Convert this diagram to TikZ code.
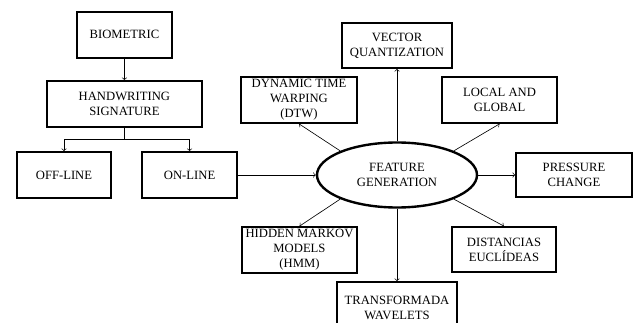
\documentclass[tikz,border=0pt]{standalone}
\usepackage{fontspec}
\setmainfont{Liberation Serif}
\usetikzlibrary{arrows,shapes.geometric}

\begin{document}
\begin{tikzpicture}[
        box/.style={draw,line width=1.2pt,align=center,inner sep=1pt,
          font=\fontsize{9}{10.7}\selectfont},
        con/.style={->,line width=0.45pt}]
        \useasboundingbox (0,0) rectangle (15.85,8.05);
        \begin{scope}
        \clip (0,0) rectangle (15.85,8.05);
        % left tree
        \node[box,minimum width=2.375cm,minimum height=1.15cm] (bio) at (3.11,7.18) {BIOMETRIC};
        \node[box,minimum width=3.875cm,minimum height=1.15cm] (hs) at (3.11,5.45) {HANDWRITING\\SIGNATURE};
        \node[box,minimum width=2.35cm,minimum height=1.15cm] (off) at (1.6,3.675) {OFF-LINE};
        \node[box,minimum width=2.375cm,minimum height=1.15cm] (on) at (4.74,3.675) {ON-LINE};
        \coordinate (split) at (3.11,4.575);
        \draw[con] (bio) -- (hs);
        \draw[line width=0.45pt] (hs.south) -- (split);
        \draw[con] (split) -| (off.north);
        \draw[con] (split) -| (on.north);
        % centre and the methods round it
        \node[draw,ellipse,line width=1.7pt,minimum width=4cm,minimum height=1.625cm,
          align=center,font=\fontsize{9}{10.7}\selectfont] (fg) at (9.925,3.675) {FEATURE\\GENERATION};
        \node[box,minimum width=2.75cm,minimum height=1.125cm] (vq) at (9.925,6.9125) {VECTOR\\QUANTIZATION};
        \node[box,minimum width=2.9cm,minimum height=1.15cm] (dtw) at (7.475,5.55) {DYNAMIC TIME\\WARPING\\(DTW)};
        \node[box,minimum width=2.875cm,minimum height=1.15cm] (lg) at (12.49,5.55) {LOCAL AND\\GLOBAL};
        \node[box,minimum width=2.9cm,minimum height=1.1cm] (pc) at (14.35,3.675) {PRESSURE\\CHANGE};
        \node[box,minimum width=2.6cm,minimum height=1.125cm] (de) at (12.6,1.8125) {DISTANCIAS\\EUCLÍDEAS};
        \node[box,minimum width=2.875cm,minimum height=1.15cm] (hmm) at (7.4875,1.8) {HIDDEN MARKOV\\MODELS\\(HMM)};
        \node[box,minimum width=3cm,minimum height=1.3cm] (tw) at (9.925,0.35) {TRANSFORMADA\\WAVELETS};
        \draw[con] (on) -- (fg);
        \draw[con] (fg.north) -- (vq.south);
        \draw[con] (fg.157) -- (dtw.south);
        \draw[con] (fg.23) -- (lg.south);
        \draw[con] (fg.east) -- (pc.west);
        \draw[con] (fg.337) -- (de.north);
        \draw[con] (fg.203) -- (hmm.north);
        \draw[con] (fg.south) -- (tw.north);
        \end{scope}
      \end{tikzpicture}
\end{document}
